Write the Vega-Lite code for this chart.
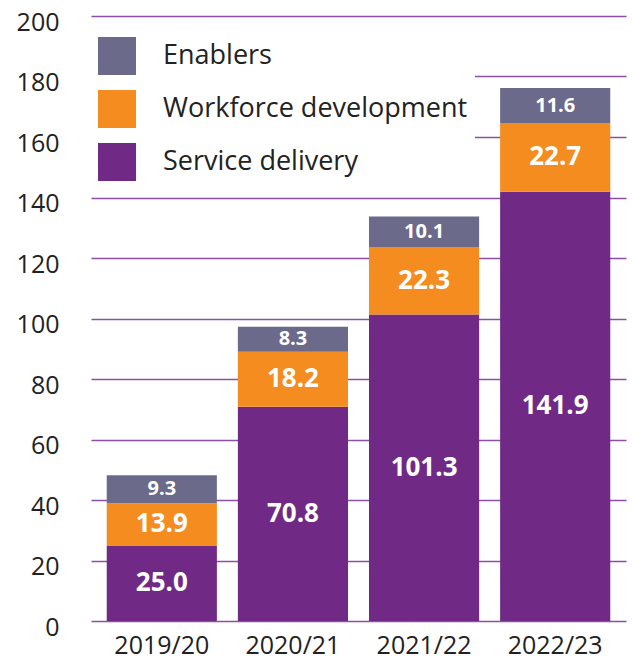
{
  "$schema": "https://vega.github.io/schema/vega-lite/v6.json",
  "autosize": {"type": "none"},
  "width": 535,
  "height": 605,
  "padding": {"left": 91, "top": 16, "right": 6, "bottom": 40},
  "background": "white",
  "config": {
    "view": {"stroke": null},
    "font": "Open Sans"
  },
  "data": {
    "values": [
      {"year": "2019/20", "category": "Service delivery", "value": 25.0, "rank": 1},
      {"year": "2019/20", "category": "Workforce development", "value": 13.9, "rank": 2},
      {"year": "2019/20", "category": "Enablers", "value": 9.3, "rank": 3},
      {"year": "2020/21", "category": "Service delivery", "value": 70.8, "rank": 1},
      {"year": "2020/21", "category": "Workforce development", "value": 18.2, "rank": 2},
      {"year": "2020/21", "category": "Enablers", "value": 8.3, "rank": 3},
      {"year": "2021/22", "category": "Service delivery", "value": 101.3, "rank": 1},
      {"year": "2021/22", "category": "Workforce development", "value": 22.3, "rank": 2},
      {"year": "2021/22", "category": "Enablers", "value": 10.1, "rank": 3},
      {"year": "2022/23", "category": "Service delivery", "value": 141.9, "rank": 1},
      {"year": "2022/23", "category": "Workforce development", "value": 22.7, "rank": 2},
      {"year": "2022/23", "category": "Enablers", "value": 11.6, "rank": 3}
    ]
  },
  "encoding": {
    "x": {
      "field": "year", "type": "nominal", "title": null,
      "scale": {"paddingInner": 0.16, "paddingOuter": 0.12},
      "axis": {"labelAngle": 0, "labelFontSize": 25, "labelColor": "#222222", "labelPadding": 12, "domain": false, "ticks": false, "grid": false}
    },
    "y": {
      "field": "value", "type": "quantitative", "stack": "zero", "title": null,
      "scale": {"domain": [0, 200], "nice": false},
      "axis": {"values": [0,20,40,60,80,100,120,140,160,180,200], "labelFontSize": 25, "labelColor": "#222222", "labelPadding": 32, "labelOffset": 6, "domain": false, "ticks": false, "grid": true, "gridColor": "#8B4FA8", "gridWidth": 1.5}
    },
    "order": {"field": "rank", "type": "quantitative", "sort": "ascending"}
  },
  "layer": [
    {
      "mark": {"type": "bar"},
      "encoding": {
        "color": {
          "field": "category", "type": "nominal",
          "scale": {"domain": ["Enablers", "Workforce development", "Service delivery"], "range": ["#6B6A8B", "#F58C20", "#702A85"]},
          "legend": {
            "title": null, "orient": "none", "legendX": 0, "legendY": 14,
            "fillColor": "white", "padding": 7,
            "symbolType": "square", "symbolSize": 1444, "symbolStrokeWidth": 0, "symbolOpacity": 1,
            "labelFontSize": 27, "labelColor": "#222222", "labelOffset": 27, "rowPadding": 15, "labelLimit": 400
          }
        }
      }
    },
    {
      "transform": [{"filter": "datum.category !== 'Enablers'"}],
      "mark": {"type": "text", "color": "white", "fontWeight": "bold", "baseline": "middle", "align": "center", "fontSize": 26},
      "encoding": {
        "y": {"field": "value", "type": "quantitative", "stack": "zero", "bandPosition": 0.5},
        "text": {"field": "value", "type": "quantitative", "format": ".1f"}
      }
    },
    {
      "mark": {"type": "text", "color": "white", "fontWeight": "bold", "baseline": "middle", "align": "center", "fontSize": 20},
      "encoding": {
        "y": {"field": "value", "type": "quantitative", "stack": "zero", "bandPosition": 0.5},
        "text": {"condition": {"test": "datum.category === 'Enablers'", "field": "value", "type": "quantitative", "format": ".1f"}, "value": ""}
      }
    }
  ]
}
